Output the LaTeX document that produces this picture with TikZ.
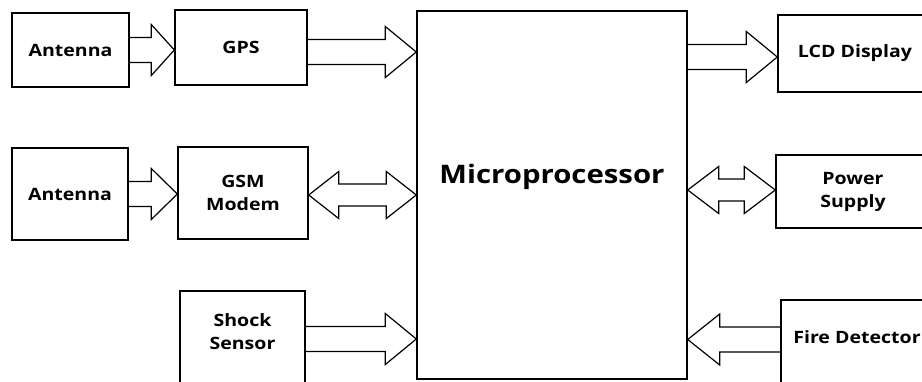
\documentclass[tikz,border=0pt]{standalone}
\usepackage{fontspec}
\newfontfamily\boxfont{Open Sans}[FakeStretch=1.15]
\usepackage{tikz}
\usetikzlibrary{calc,positioning}

\tikzset{
  blockbox/.style={draw, line width=1.4pt, rectangle, inner sep=0pt, align=center,
    font=\boxfont\bfseries\fontsize{17}{23}\selectfont},
  boxtext/.style={inner sep=0pt, align=center, font=\boxfont\bfseries\fontsize{17}{23}\selectfont},
  fatline/.style={draw, line width=1.2pt, line join=miter},
}

% single block arrow: start, tip, head length (signed)
\newcommand{\fatarrow}[3]{%
  \draw[fatline] let \p1=(#1), \p2=(#2) in
    (\x1,{\y1+12.5pt}) -- ({\x2-#3},{\y1+12.5pt}) -- ({\x2-#3},{\y1+25.5pt})
    -- (\x2,\y1) -- ({\x2-#3},{\y1-25.5pt}) -- ({\x2-#3},{\y1-12.5pt}) -- (\x1,{\y1-12.5pt});}
% double block arrow: left tip, right tip, head length
\newcommand{\dblarrow}[3]{%
  \draw[fatline] let \p1=(#1), \p2=(#2) in
    (\x1,\y1) -- ({\x1+#3},{\y1+23.5pt}) -- ({\x1+#3},{\y1+11pt}) -- ({\x2-#3},{\y1+11pt})
    -- ({\x2-#3},{\y1+23.5pt}) -- (\x2,\y1) -- ({\x2-#3},{\y1-23.5pt}) -- ({\x2-#3},{\y1-11pt})
    -- ({\x1+#3},{\y1-11pt}) -- ({\x1+#3},{\y1-23.5pt}) -- cycle;}

\begin{document}
\begin{tikzpicture}[x=1pt,y=-1pt]
  \useasboundingbox (0,0) rectangle (922,381);

  % left column
  \node[blockbox, minimum width=117, minimum height=74] (ant1) at (70.5,50) {Antenna};
  \node[blockbox, minimum width=116, minimum height=92] (ant2) at (70,194) {Antenna};

  % inputs
  \node[blockbox, minimum width=132, minimum height=75] (gps) at (241,47.5) {GPS};
  \node[blockbox, minimum width=130, minimum height=92] (gsm) at (243,193) {GSM\\Modem};
  \node[blockbox, minimum width=125, minimum height=109] (shock) at (242.5,345.5) {};
  \node[boxtext] (shocktxt) at (242.5,332) {Shock\\Sensor};

  % processor
  \node[blockbox, minimum width=270, minimum height=368] (micro) at (552,195) {};
  \node[boxtext, font=\boxfont\bfseries\fontsize{25.5}{30}\selectfont] (microtxt) at (552,177) {Microprocessor};

  % outputs
  \node[blockbox, minimum width=154, minimum height=77] (lcd) at (855,53.5) {LCD Display};
  \node[blockbox, minimum width=154, minimum height=73] (power) at (853,191.5) {Power\\Supply};
  \node[blockbox, minimum width=152, minimum height=100] (fire) at (857,350) {};
  \node[boxtext] (firetxt) at (857,337) {Fire Detector};

  % connectors
  \coordinate (gpsout) at ($(gps.east)+(0,4.5)$);
  \coordinate (gsmout) at ($(gsm.east)+(0,2)$);
  \coordinate (shockout) at ($(shock.east)+(0,-6.5)$);
  \coordinate (lcdin) at ($(lcd.west)+(0,3.5)$);
  \coordinate (powerin) at ($(power.west)+(0,-1.5)$);
  \coordinate (firein) at ($(fire.west)+(0,-10.5)$);

  \fatarrow{ant1.east}{ant1.east -| gps.west}{23pt}
  \fatarrow{ant2.east}{ant2.east -| gsm.west}{26pt}
  \fatarrow{gpsout}{gpsout -| micro.west}{31pt}
  \dblarrow{gsmout}{gsmout -| micro.west}{30pt}
  \fatarrow{shockout}{shockout -| micro.west}{31pt}
  \fatarrow{lcdin -| micro.east}{lcdin}{31pt}
  \dblarrow{powerin -| micro.east}{powerin}{31pt}
  \fatarrow{firein}{firein -| micro.east}{-32pt}
\end{tikzpicture}
\end{document}
